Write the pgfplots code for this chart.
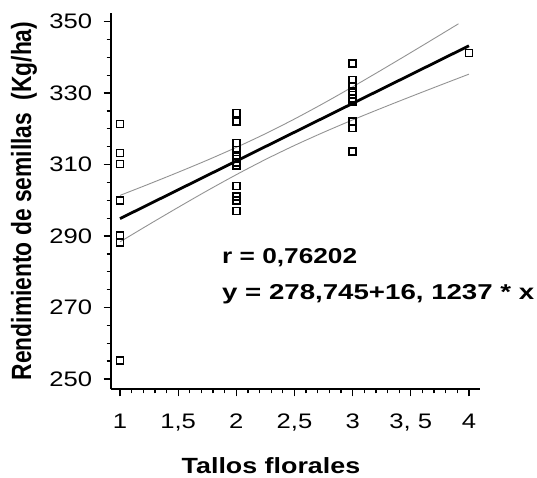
\documentclass[border=0pt]{standalone}
\usepackage{pgfplots}
\pgfplotsset{compat=1.18}
\usepackage{fontspec}
\setmainfont{Liberation Sans}[FakeStretch=1.22]
\newfontfamily\plainsans{Liberation Sans}
\begin{document}
\begin{tikzpicture}
\begin{axis}[
  at={(0pt,0pt)}, anchor=south west,
  scale only axis, width=369.3pt, height=376.6pt,
  xmin=0.92, xmax=4.095, ymin=247.1, ymax=352.5,
  axis lines=left,
  axis line style={-, line width=1.8pt, black},
  tick style={black, line width=1.3pt},
  major tick length=7pt, minor tick length=4pt,
  tick align=outside,
  xtick={1,1.5,2,2.5,3,3.5,4},
  xticklabels={1,{1,5},2,{2,5},3,{3, 5},4},
  minor x tick num=4,
  ytick={250,270,290,310,330,350},
  minor y tick num=3,
  ticklabel style={font=\fontsize{21}{21}\selectfont},
  /pgf/number format/assume math mode=true,
  xticklabel style={yshift=-14pt},
  yticklabel style={xshift=-8pt},
  xlabel={\bfseries Tallos florales},
  every axis x label/.style={at={(axis description cs:0.434,-0.2018)}, anchor=center, inner sep=0pt, font=\fontsize{22}{22}\selectfont},
  ylabel={\scalebox{1}[1.22]{\plainsans\bfseries Rendimiento de semillas\ \ (Kg/ha)}},
  every axis y label/.style={at={(axis description cs:-0.2348,0.5)}, rotate=90, anchor=center, inner sep=0pt, font=\fontsize{22.8}{22.8}\selectfont},
  clip=false,
]
\addplot[only marks, mark=square, mark size=3.5pt, mark options={line width=1.6pt, black}] coordinates {
 (1,321.3) (1,313.2) (1,310.1) (1,299.9) (1,290.1) (1,288.2) (1,255.1)
 (2,324.4) (2,322.0) (2,316.0) (2,314.1) (2,312.5) (2,311.5) (2,310.5) (2,309.8) (2,304.0) (2,301.0) (2,300.0) (2,297.0)
 (3,338.2) (3,333.7) (3,332.0) (3,330.5) (3,329.5) (3,328.5) (3,327.6) (3,322.0) (3,320.2) (3,313.6)
 (4,341.2)
};
\addplot[gray!85, line width=0.9pt, smooth] coordinates {
 (1,301.37) (1.25,304.56) (1.5,307.84) (1.75,311.23) (2,314.81) (2.25,318.63) (2.5,322.75)
 (2.75,327.14) (3,331.75) (3.25,336.50) (3.5,341.34) (3.75,346.24) (3.91,349.40)
};
\addplot[gray!85, line width=0.9pt, smooth] coordinates {
 (1,288.37) (1.25,293.24) (1.5,298.02) (1.75,302.69) (2,307.17) (2.25,311.41) (2.5,315.35)
 (2.75,319.02) (3,322.49) (3.25,325.80) (3.5,329.02) (3.75,332.18) (4,335.30)
};
\addplot[black, line width=2.8pt] coordinates {(1,294.87) (4,343.24)};
\node[anchor=base west, inner sep=0pt, font=\bfseries\fontsize{21.5}{21.5}\selectfont] at (axis cs:1.877,282.4) {r = 0,76202};
\node[anchor=base west, inner sep=0pt, font=\bfseries\fontsize{21.5}{21.5}\selectfont] at (axis cs:1.877,272.2) {\scalebox{1.054}[1]{y = 278,745+16, 1237 * x}};
\end{axis}
\pgfresetboundingbox
\path[use as bounding box] (-110.7pt,-87.7pt) rectangle (426.3pt,389.3pt);
\end{tikzpicture}
\end{document}
